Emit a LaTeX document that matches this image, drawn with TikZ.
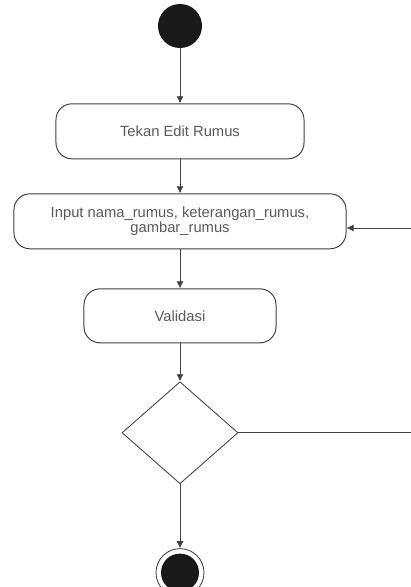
\documentclass[tikz,border=0pt]{standalone}
\usepackage{fontspec}
\setmainfont{Liberation Sans}
\usetikzlibrary{positioning,shapes.geometric,arrows.meta}

\begin{document}
\begin{tikzpicture}[x=0.025cm, y=-0.025cm, font=\fontsize{10.5}{11}\selectfont,
    aksi/.style={draw=black!75, line width=0.7pt, rectangle, rounded corners=0.4cm, minimum height=1.375cm, align=center, text=black!65},
    alur/.style={draw=black!75, line width=0.6pt, -{Latex[length=5pt,width=5pt]}}]
    \useasboundingbox (0,0) rectangle (411,587);
    % mulai
    \node[circle, fill=black!90, minimum size=1.1cm, inner sep=0] (mulai) at (180,26) {};

    % tekan edit rumus
    \node[aksi, minimum width=6.2cm, below=1.375cm of mulai] (tekan) {Tekan Edit Rumus};
    \draw[alur] (mulai) -- (tekan);

    % input data rumus
    \node[aksi, minimum width=8.3cm, below=0.85cm of tekan] (input) {Input nama\_rumus, keterangan\_rumus,\\gambar\_rumus};
    \draw[alur] (tekan) -- (input);

    % validasi
    \node[aksi, minimum width=4.8cm, minimum height=1.35cm, below=0.975cm of input] (validasi) {Validasi};
    \draw[alur] (input) -- (validasi);

    % keputusan
    \node[diamond, draw=black!75, line width=0.6pt, minimum width=2.9cm, minimum height=2.55cm, inner sep=0, below=0.95cm of validasi] (cek) {};
    \draw[alur] (validasi) -- (cek);

    % selesai
    \node[circle, draw=black!75, line width=0.6pt, minimum size=1.2cm, inner sep=0, below=1.6cm of cek] (selesai) {};
    \node[circle, fill=black!90, minimum size=0.95cm, inner sep=0] (selesaiisi) at (selesai) {};
    \draw[alur] (cek) -- (selesai);

    % kembali ke input
    \coordinate (keluar) at (411,429);
    \coordinate (masuk) at (411,228);
    \draw[draw=black!75, line width=0.6pt] (cek.east) -- (keluar |- cek.east);
    \draw[alur] (masuk) -- (input.east |- masuk);
\end{tikzpicture}
\end{document}
